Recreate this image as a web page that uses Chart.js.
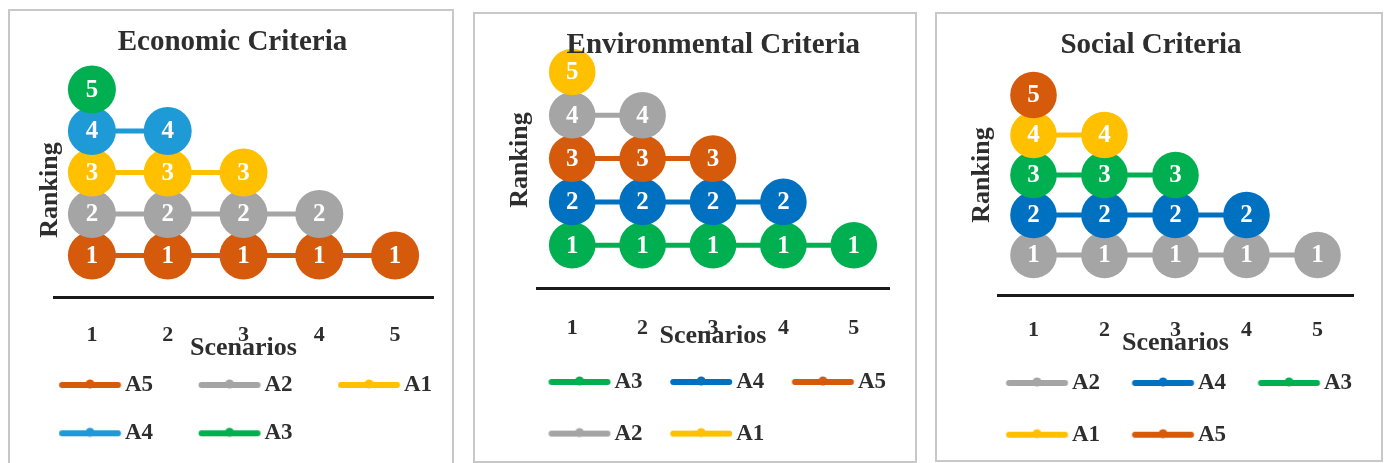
<!DOCTYPE html>
<html>
<head>
<meta charset="utf-8">
<script src="https://cdn.jsdelivr.net/npm/chart.js@4.4.1/dist/chart.umd.min.js"></script>
<style>
  html, body { margin: 0; padding: 0; background: #fff; }
  body { position: relative; width: 1385px; height: 463px; overflow: hidden; }
  .box { position: absolute; box-sizing: border-box; border: 2px solid #c8c8c8; }
  .title { position: absolute; transform: translateX(-50%); white-space: nowrap;
           font: bold 29px "Liberation Serif", "Times New Roman", serif; line-height: 29px; color: #2e2e2e; }
  canvas { position: absolute; top: 0; }
</style>
</head>
<body>
<script>
// scenario categories on the x axis
const scenarios = ['1', '2', '3', '4', '5'];

// Economic criteria - rank of each alternative per scenario
const ecoLabels = ['A5', 'A2', 'A1', 'A4', 'A3'];
const ecoA5 = [1, 1, 1, 1, 1];
const ecoA2 = [2, 2, 2, 2, null];
const ecoA1 = [3, 3, 3, null, null];
const ecoA4 = [4, 4, null, null, null];
const ecoA3 = [5, null, null, null, null];

// Environmental criteria
const envLabels = ['A3', 'A4', 'A5', 'A2', 'A1'];
const envA3 = [1, 1, 1, 1, 1];
const envA4 = [2, 2, 2, 2, null];
const envA5 = [3, 3, 3, null, null];
const envA2 = [4, 4, null, null, null];
const envA1 = [5, null, null, null, null];

// Social criteria
const socLabels = ['A2', 'A4', 'A3', 'A1', 'A5'];
const socA2 = [1, 1, 1, 1, 1];
const socA4 = [2, 2, 2, 2, null];
const socA3 = [3, 3, 3, null, null];
const socA1 = [4, 4, null, null, null];
const socA5 = [5, null, null, null, null];

const palette = { A1: '#FFC000', A2: '#A5A5A5', A3: '#00B050', A4: '#0070C0', A5: '#D65A0B' };

const FONT = '"Liberation Serif", "Times New Roman", serif';
const TEXT = '#2e2e2e';
const LEG_FS = 23;
const AXIS_FS = 26;
const TICK_FS = 22;
const CANVAS_H = 470;

// page positions (box, title, plot, axis titles, legend rows)
const panels = [
  {
    title: 'Economic Criteria', labels: ecoLabels,
    series: [ecoA5, ecoA2, ecoA1, ecoA4, ecoA3], colors: { A4: '#1E9AD6' },
    box: [8, 9, 446, 470], titleX: 232.5, titleBase: 50,
    plotL: 54, plotR: 433, plotB: 297, unit: 41.5, radius: 24,
    rankX: 50, rankY: 190, tickY: 327, scenY: 348,
    legY: 385, legGap: 48.3, legX: 59, legStep: 139.5
  },
  {
    title: 'Environmental Criteria', labels: envLabels,
    series: [envA3, envA4, envA5, envA2, envA1], colors: {},
    box: [473, 12, 444, 451], titleX: 713.3, titleBase: 53,
    plotL: 537, plotR: 889, plotB: 288.5, unit: 43.3, radius: 23.3,
    rankX: 520, rankY: 160, tickY: 320, scenY: 336,
    legY: 382, legGap: 51.6, legX: 548.5, legStep: 121.7
  },
  {
    title: 'Social Criteria', labels: socLabels,
    series: [socA2, socA4, socA3, socA1, socA5], colors: {},
    box: [935, 12, 448, 450], titleX: 1151, titleBase: 53,
    plotL: 998, plotR: 1353, plotB: 295, unit: 40, radius: 23.3,
    rankX: 982, rankY: 175, tickY: 322, scenY: 343,
    legY: 383, legGap: 51.7, legX: 1006, legStep: 126
  }
];

// white rank number inside every circle
const pointLabels = {
  id: 'pointLabels',
  afterDatasetDraw(chart, args) {
    const ctx = chart.ctx;
    const ds = chart.data.datasets[args.index];
    ctx.save();
    ctx.font = 'bold 25px ' + FONT;
    ctx.fillStyle = '#ffffff';
    ctx.textAlign = 'center';
    ctx.textBaseline = 'middle';
    args.meta.data.forEach((pt, i) => {
      if (ds.data[i] == null) return;
      ctx.fillText(String(ds.data[i]), pt.x, pt.y + 1);
    });
    ctx.restore();
  }
};

function measure(text, font) {
  const g = document.createElement('canvas').getContext('2d');
  g.font = font;
  return g.measureText(text).width;
}

// legend sample: thick line with a small dot, offset inside a wider image
function legendSample(color, boxW) {
  const off = boxW + LEG_FS / 2 - 4 - 62;
  const half = Math.ceil(Math.max(boxW / 2 - off, off + 62 - boxW / 2)) + 1;
  const c = document.createElement('canvas');
  c.width = half * 2;
  c.height = 14;
  const g = c.getContext('2d');
  const x0 = off - (boxW / 2 - half);
  g.strokeStyle = color;
  g.lineWidth = 6;
  g.lineCap = 'round';
  g.beginPath();
  g.moveTo(x0 + 3, 7);
  g.lineTo(x0 + 59, 7);
  g.stroke();
  g.fillStyle = color;
  g.beginPath();
  g.arc(x0 + 31, 6, 4.5, 0, Math.PI * 2);
  g.fill();
  return c;
}

function build(p) {
  const box = document.createElement('div');
  box.className = 'box';
  box.style.left = p.box[0] + 'px';
  box.style.top = p.box[1] + 'px';
  box.style.width = p.box[2] + 'px';
  box.style.height = p.box[3] + 'px';
  document.body.appendChild(box);

  // legend geometry
  const pad = p.legGap - LEG_FS;
  const textW = measure('A1', 'bold ' + LEG_FS + 'px ' + FONT);
  const boxW = p.legStep - pad - LEG_FS / 2 - textW;
  const lineOff = boxW + LEG_FS / 2 - 4 - 62;
  const itemX = p.legX - lineOff;
  const legLeft = itemX - pad;
  const x0 = p.box[0];
  const right = Math.max(p.box[0] + p.box[2], Math.ceil(itemX + 3 * p.legStep + 2));
  const legTop = p.legY - pad - LEG_FS / 2;
  const legH = 2 * (LEG_FS + pad) + 10;
  const plotT = 2 * p.rankY - p.plotB;
  const yMax = (p.plotB - plotT) / p.unit;

  const canvas = document.createElement('canvas');
  canvas.width = right - x0;
  canvas.height = CANVAS_H;
  canvas.style.left = x0 + 'px';
  document.body.appendChild(canvas);

  const colorOf = name => p.colors[name] || palette[name];

  new Chart(canvas, {
    type: 'line',
    data: {
      labels: scenarios,
      datasets: p.series.map((data, i) => ({
        label: p.labels[i],
        data: data,
        borderColor: colorOf(p.labels[i]),
        backgroundColor: colorOf(p.labels[i]),
        pointBackgroundColor: colorOf(p.labels[i]),
        borderWidth: 5,
        pointRadius: p.radius,
        pointHoverRadius: p.radius,
        pointBorderWidth: 0,
        clip: false,
        order: p.series.length - i
      }))
    },
    options: {
      responsive: false,
      animation: false,
      devicePixelRatio: 1,
      events: [],
      layout: {
        padding: { left: legLeft - x0, right: 0, top: plotT, bottom: CANVAS_H - legTop - legH }
      },
      scales: {
        x: {
          type: 'category',
          offset: true,
          grid: { display: false },
          border: { display: true, color: '#1a1a1a', width: 3 },
          ticks: {
            color: TEXT,
            font: { family: FONT, size: TICK_FS, weight: 'bold' },
            padding: p.tickY - p.plotB - TICK_FS * 0.6
          },
          title: {
            display: true, text: 'Scenarios', color: TEXT,
            font: { family: FONT, size: AXIS_FS, weight: 'bold' },
            padding: { top: 0, bottom: legTop - p.scenY - AXIS_FS * 0.6 }
          },
          afterFit: s => { s.height = legTop - p.plotB; }
        },
        y: {
          min: 0,
          max: yMax,
          grid: { display: false },
          border: { display: false },
          ticks: { display: false },
          title: {
            display: true, text: 'Ranking', color: TEXT,
            font: { family: FONT, size: AXIS_FS, weight: 'bold' },
            padding: { top: p.rankX - legLeft - AXIS_FS * 0.6, bottom: 0 }
          },
          afterFit: s => { s.width = p.plotL - legLeft; }
        },
        y2: {
          type: 'linear',
          position: 'right',
          grid: { display: false },
          border: { display: false },
          ticks: { display: false },
          afterFit: s => { s.width = right - p.plotR; }
        }
      },
      plugins: {
        tooltip: { enabled: false },
        legend: {
          position: 'bottom',
          align: 'start',
          labels: {
            usePointStyle: true,
            pointStyleWidth: boxW,
            padding: pad,
            color: TEXT,
            font: { family: FONT, size: LEG_FS, weight: 'bold' },
            generateLabels: chart => chart.data.datasets.map((ds, i) => ({
              text: ds.label,
              fillStyle: ds.borderColor,
              strokeStyle: ds.borderColor,
              lineWidth: 0,
              pointStyle: legendSample(ds.borderColor, boxW),
              fontColor: TEXT,
              hidden: false,
              datasetIndex: i
            }))
          }
        }
      }
    },
    plugins: [pointLabels]
  });

  const t = document.createElement('div');
  t.className = 'title';
  t.textContent = p.title;
  t.style.left = p.titleX + 'px';
  t.style.top = (p.titleBase - 24.3) + 'px';
  document.body.appendChild(t);
}

panels.forEach(build);
</script>
</body>
</html>
